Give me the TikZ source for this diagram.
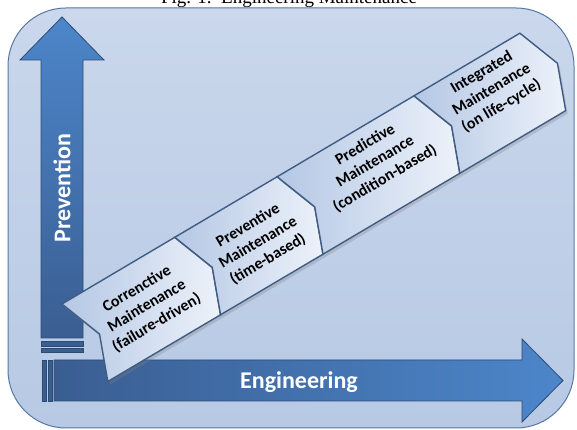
\documentclass[tikz,border=0pt]{standalone}
\usepackage{fontspec}
\setmainfont{Carlito}
\newfontfamily\capfont{Liberation Serif}
\usetikzlibrary{shadows}

\definecolor{framelight}{HTML}{CAD7EC}
\definecolor{framedark}{HTML}{B7C9E4}
\definecolor{frameline}{HTML}{56789F}
\definecolor{arrowlight}{HTML}{4C86CA}
\definecolor{arrowdark}{HTML}{3A5E92}
\definecolor{arrowline}{HTML}{2C4B74}
\definecolor{chevdark}{HTML}{B4C7E4}
\definecolor{chevlight}{HTML}{EDF2FA}
\definecolor{chevline}{HTML}{3F5C82}

\begin{document}
\begin{tikzpicture}[x=1pt,y=1pt]
	\tikzset{frame/.style = {draw=frameline, line width=1pt, top color=framelight, bottom color=framedark, rounded corners=58pt}}
	\tikzset{bigarrow/.style = {draw=arrowline, line width=0.8pt}}
	\tikzset{strip/.style = {fill=arrowdark, draw=arrowline, line width=0.4pt}}
	\tikzset{chevron/.style = {draw=chevline, line width=1.4pt, left color=chevdark, right color=chevlight, drop shadow={shadow xshift=2pt, shadow yshift=-3pt, opacity=0.3}}}
	\tikzset{axislabel/.style = {text=white, font=\bfseries\fontsize{24}{28}\selectfont}}
	\tikzset{chevlabel/.style = {align=center, font=\bfseries\fontsize{16}{19.5}\selectfont, rotate=30.6}}

	\useasboundingbox (0,0) rectangle (577,430);
	\node[font=\capfont\fontsize{19}{22}\selectfont, anchor=base] (caption) at (289,426) {Fig. 1.~~Engineering Maintenance};

	\path[frame] (8,2) rectangle (574,422);

	% prevention axis
	\path[bigarrow, top color=arrowlight, bottom color=arrowdark] (41,92) -- (41,370) -- (20,370) -- (62,413) -- (104,370) -- (83,370) -- (83,92) -- cycle;
	\path[strip] (41,84) rectangle (83,89);
	\path[strip] (41,78) rectangle (83,82);
	\node[axislabel, rotate=90] (prevention) at (62,242) {Prevention};

	% engineering axis
	\path[bigarrow, left color=arrowdark, right color=arrowlight] (54,29) -- (522,29) -- (522,8) -- (563,49.5) -- (522,91) -- (522,70) -- (54,70) -- cycle;
	\path[strip] (42,29) rectangle (46,70);
	\path[strip] (48,29) rectangle (52,70);
	\node[axislabel] (engineering) at (299,48) {Engineering};

	% the four stages
	\begin{scope}[shift={(62,126)}, rotate=30.6]
		\foreach \a/\b/\cu/\cv/\name/\txt in {
			0/131/72/-45/corrective/{Correnctive\\Maintenance\\(failure-driven)},
			131/250/200/-47/preventive/{Preventive\\Maintenance\\(time-based)},
			250/409/342/-37/predictive/{Predictive\\Maintenance\\(condition-based)},
			409/532/479/-34/integrated/{Integrated\\Maintenance\\(on life-cycle)}}
		{
			\path[chevron] (\a,0) -- (\b,0) -- ++(17,-45) -- (\b,-90) -- (\a,-90) -- ++(17,45) -- cycle;
			\node[chevlabel] (\name) at (\cu,\cv) {\txt};
		}
	\end{scope}

\end{tikzpicture}
\end{document}
